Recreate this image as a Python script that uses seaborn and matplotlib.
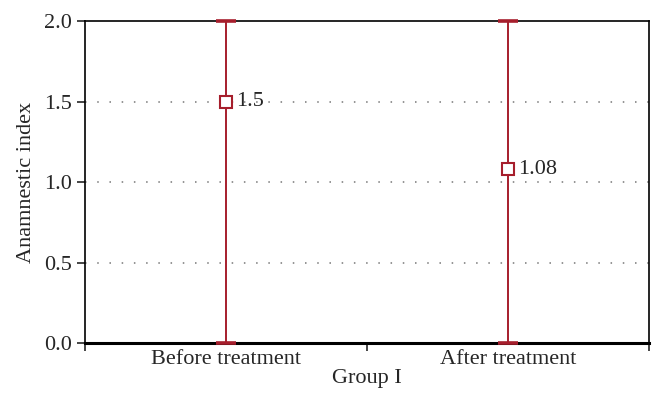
import numpy as np
import pandas as pd
import seaborn as sns
import matplotlib.pyplot as plt

# dados do gráfico
grupos = ["Before treatment", "After treatment"]
indice = [1.5, 1.08]
minimo = [0.0, 0.0]
maximo = [2.0, 2.0]
rotulos = ["1.5", "1.08"]

cor = "#a61e2c"

sns.set_style("white")
plt.rcParams['font.family'] = ['Liberation Serif', 'DejaVu Serif']

fig = plt.figure(figsize=(6.63, 4.07), dpi=100)
ax = fig.add_axes([0.128, 0.157, 0.851, 0.791])

dados = pd.DataFrame({'Grupo': grupos, 'Indice': indice})

# barras de erro (mínimo a máximo)
posicoes = np.arange(len(grupos))
barras = ax.errorbar(posicoes, indice,
                     yerr=[np.array(indice) - np.array(minimo), np.array(maximo) - np.array(indice)],
                     fmt='none', ecolor=cor, elinewidth=1.4, capsize=7, capthick=2.6, zorder=5)
for parte in barras.lines[1] + barras.lines[2]:
    parte.set_clip_on(False)

sns.pointplot(x='Grupo', y='Indice', data=dados, order=grupos, linestyle='none',
              marker='s', markersize=8, markerfacecolor='white', markeredgecolor=cor,
              markeredgewidth=1.5, color=cor, errorbar=None, ax=ax, zorder=6)

for i, (v, r) in enumerate(zip(indice, rotulos)):
    ax.annotate(r, (i, v), xytext=(7, 0), textcoords='offset points',
                va='center', ha='left', fontsize=16)

ax.set_xlim(-0.5, 1.5)
ax.set_ylim(0, 2)
ax.set_yticks([0, 0.5, 1.0, 1.5, 2.0])
ax.set_yticklabels(["0.0", "0.5", "1.0", "1.5", "2.0"])
ax.set_xticks([-0.5, 0.5, 1.5], minor=True)
ax.tick_params(axis='x', which='major', length=0, labelsize=16, pad=5)
ax.tick_params(axis='x', which='minor', length=6, width=1.2, direction='out', bottom=True)
ax.tick_params(axis='y', length=6, width=1.2, direction='out', left=True, labelsize=16, pad=3)

# grade pontilhada
for y in [0.5, 1.0, 1.5]:
    ax.axhline(y, color='#777777', linestyle=(0, (1, 7)), linewidth=1.1, zorder=1)

for lado in ['left', 'right', 'top']:
    ax.spines[lado].set_color('black')
    ax.spines[lado].set_linewidth(1.2)
ax.spines['bottom'].set_color('black')
ax.spines['bottom'].set_linewidth(2.2)

ax.set_xlabel("Group I", fontsize=16, labelpad=0)
ax.set_ylabel("Anamnestic index", fontsize=16, labelpad=6)

plt.savefig('out.png', dpi=100)
